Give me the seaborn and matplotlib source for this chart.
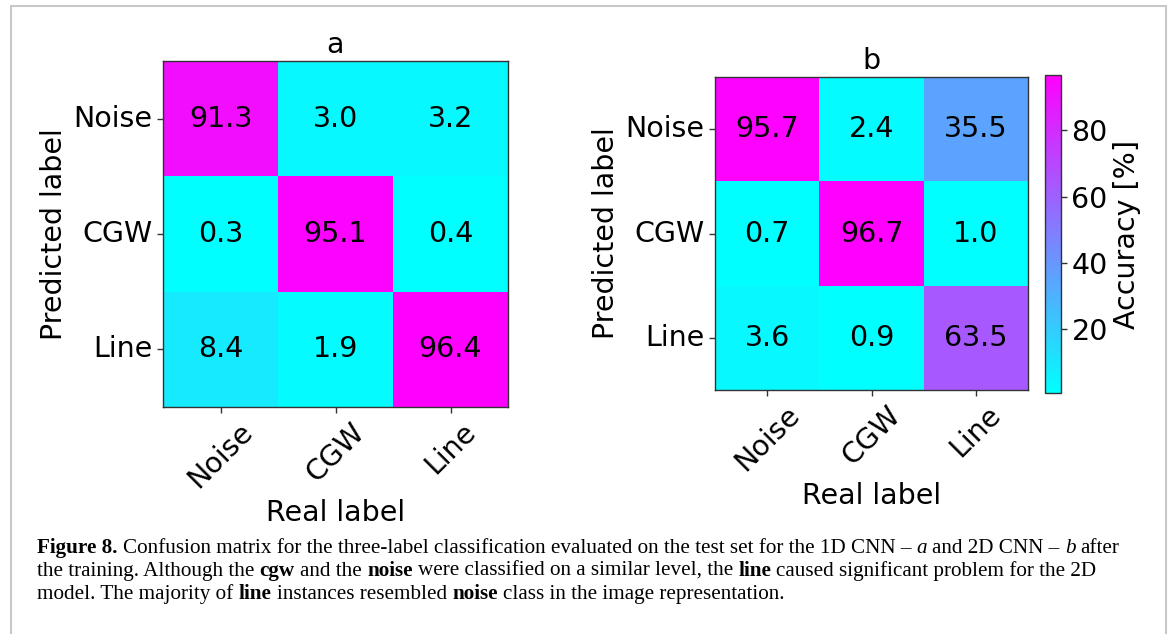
import matplotlib
matplotlib.use("Agg")
import matplotlib.pyplot as plt
import matplotlib.patches as mpatches
from matplotlib.transforms import IdentityTransform
import numpy as np
import pandas as pd
import seaborn as sns

# ---- data ----
labels = ["Noise", "CGW", "Line"]
cm_1d = [[91.3, 3.0, 3.2],
         [0.3, 95.1, 0.4],
         [8.4, 1.9, 96.4]]
cm_2d = [[95.7, 2.4, 35.5],
         [0.7, 96.7, 1.0],
         [3.6, 0.9, 63.5]]
cbar_ticks = [20, 40, 60, 80]

plt.rcParams["font.family"] = ["DejaVu Sans"]
FS = 20.5
W, H = 1170, 634
fig = plt.figure(figsize=(W / 100, H / 100), dpi=100)

def frac(l, t, r, b):
    return [l / W, (H - b) / H, (r - l) / W, (b - t) / H]

ax_a = fig.add_axes(frac(163, 61, 508, 407))
ax_b = fig.add_axes(frac(715, 77, 1028, 390))
cax = fig.add_axes(frac(1045, 75, 1061, 393))

df_a = pd.DataFrame(cm_1d, index=labels, columns=labels)
df_b = pd.DataFrame(cm_2d, index=labels, columns=labels)

sns.heatmap(df_a, ax=ax_a, cmap="cool", annot=True, fmt=".1f", cbar=False,
            annot_kws={"fontsize": FS, "color": "black"})
sns.heatmap(df_b, ax=ax_b, cmap="cool", annot=True, fmt=".1f", cbar=True,
            cbar_ax=cax, annot_kws={"fontsize": FS, "color": "black"},
            cbar_kws={"ticks": cbar_ticks})

for ax, title in ((ax_a, "a"), (ax_b, "b")):
    ax.set_title(title, fontsize=FS)
    ax.set_xlabel("Real label", fontsize=FS)
    ax.set_ylabel("Predicted label", fontsize=FS)
    ax.tick_params(axis="both", labelsize=FS, length=4, width=1, color="#333333")
    plt.setp(ax.get_xticklabels(), rotation=45, ha="center")
    plt.setp(ax.get_yticklabels(), rotation=0)
    for sp in ax.spines.values():
        sp.set_visible(True)
        sp.set_color("#333333")
        sp.set_linewidth(1.0)

cax.tick_params(labelsize=FS, length=4, width=1, color="#333333")
cax.set_ylabel("Accuracy [%]", fontsize=FS)
cb = ax_b.collections[0].colorbar
cb.outline.set_visible(True)
cb.outline.set_linewidth(1.0)
cb.outline.set_edgecolor("#333333")

# ---- frame ----
fig.patches.append(mpatches.Rectangle((11, -10), 1155, H - 6 + 10, fill=False,
                                      edgecolor="#c8c8c8", linewidth=1.5,
                                      transform=IdentityTransform(), figure=fig))

# ---- caption ----
CAP_FS = 15.2
CAP_FAM = "Liberation Serif"
renderer = fig.canvas.get_renderer()

def txt_width(s, **kw):
    t = fig.text(0, 0, s, fontsize=CAP_FS, family=CAP_FAM, transform=IdentityTransform(), **kw)
    w = t.get_window_extent(renderer).width
    t.remove()
    return w

space_w = txt_width("x x") - txt_width("xx")

caption_lines = [
    [("Figure 8.", "bold", "normal"),
     ("Confusion matrix for the three-label classification evaluated on the test set for the 1D CNN \u2013", "normal", "normal"),
     ("a", "normal", "italic"), ("and 2D CNN \u2013", "normal", "normal"),
     ("b", "normal", "italic"), ("after", "normal", "normal")],
    [("the training. Although the", "normal", "normal"), ("cgw", "bold", "normal"),
     ("and the", "normal", "normal"), ("noise", "bold", "normal"),
     ("were classified on a similar level, the", "normal", "normal"), ("line", "bold", "normal"),
     ("caused significant problem for the 2D", "normal", "normal")],
    [("model. The majority of", "normal", "normal"), ("line", "bold", "normal"),
     ("instances resembled", "normal", "normal"), ("noise", "bold", "normal"),
     ("class in the image representation.", "normal", "normal")],
]
baselines = [553, 576, 599]
for runs, yb in zip(caption_lines, baselines):
    x = 37
    for s, wgt, sty in runs:
        t = fig.text(x, H - yb, s, fontsize=CAP_FS, family=CAP_FAM, fontweight=wgt,
                     fontstyle=sty, va="baseline", ha="left", transform=IdentityTransform())
        x += t.get_window_extent(renderer).width + space_w

fig.savefig("out.png", dpi=100)
